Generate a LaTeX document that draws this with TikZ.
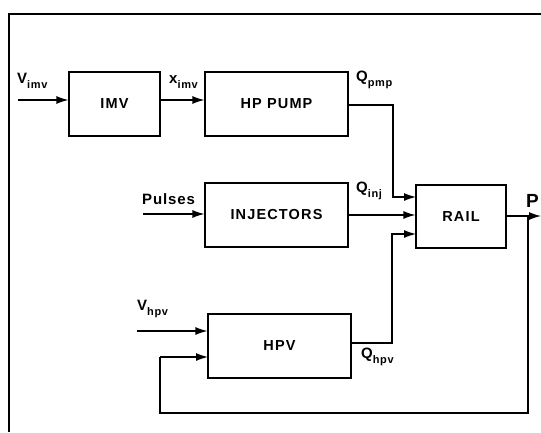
\documentclass[tikz,border=0pt]{standalone}
\usepackage{fontspec}
\setmainfont{Liberation Sans}
\usetikzlibrary{positioning,calc,arrows.meta}
\newcommand{\sigsub}[2]{#1\raisebox{-5pt}{\fontsize{11}{12}\selectfont #2}}

\begin{document}
\begin{tikzpicture}[x=1pt,y=-1pt,
  blk/.style={draw,line width=1.2pt,inner sep=0pt,font=\fontsize{14.5}{15}\selectfont\bfseries\addfontfeature{LetterSpace=8}},
  sig/.style={line width=1.2pt,-{Latex[length=12pt,width=8pt]}},
  wire/.style={line width=1.2pt},
  lbl/.style={inner sep=0pt,font=\fontsize{15}{16}\selectfont\bfseries\addfontfeature{LetterSpace=6}}]
\useasboundingbox (0,0) rectangle (541,432);
% frame
\draw[line width=1.2pt] (9,432) -- (9,14) -- (541,14);
% blocks
\node[blk,minimum width=91pt,minimum height=64pt] (imv) at (114.5,104) {IMV};
\node[blk,minimum width=143pt,minimum height=64pt] (pump) at (276.5,104) {HP PUMP};
\node[blk,minimum width=143pt,minimum height=64pt] (inj) at (276.5,215) {INJECTORS};
\node[blk,minimum width=90pt,minimum height=63pt] (rail) at (461,216.5) {RAIL};
\node[blk,minimum width=143pt,minimum height=64pt] (hpv) at (279.5,346) {HPV};
% free ends
\coordinate (vimvin) at (18,100);
\coordinate (pulsein) at (143,214);
\coordinate (vhpvin) at (137,331);
\coordinate (pout) at (541,216);
\coordinate (tap) at (528,216);
\coordinate (rin1) at (416,197);
\coordinate (rin3) at (416,234);
\coordinate (hin2) at (208,357);
% signals
\draw[sig] (vimvin) -- (imv.west |- vimvin);
\draw[sig] (imv.east |- vimvin) -- (pump.west |- vimvin);
\draw[sig] (pump.east |- 0,105) -- (393,105) |- (rin1);
\draw[sig] (pulsein) -- (inj.west |- pulsein);
\draw[sig] (inj.east) -- (rail.west |- inj.east);
\draw[sig] (hpv.east |- 0,343) -- (392,343) |- (rin3);
\draw[sig] (vhpvin) -- (hpv.west |- vhpvin);
\draw[sig] (rail.east |- pout) -- (pout);
\draw[wire] (tap) -- (528,413) -- (160,413) -- (160,357);
\draw[sig] (160,357) -- (hin2);
% labels
\node[lbl,anchor=south west] (lvimv) at (17,89) {\sigsub{V}{imv}};
\node[lbl,anchor=south west] (lximv) at (169,89) {\sigsub{x}{imv}};
\node[lbl,anchor=south west] (lqpmp) at (356,89) {\sigsub{Q}{pmp}};
\node[lbl,anchor=south west] (lqinj) at (356,200) {\sigsub{Q}{inj}};
\node[lbl,anchor=south west] (lpuls) at (142,205) {Pulses};
\node[lbl,anchor=south west,font=\fontsize{19}{20}\selectfont\bfseries] (lp) at (526,208) {P};
\node[lbl,anchor=south west] (lvhpv) at (137,318) {\sigsub{V}{hpv}};
\node[lbl,anchor=south west] (lqhpv) at (361,366) {\sigsub{Q}{hpv}};
\end{tikzpicture}
\end{document}
